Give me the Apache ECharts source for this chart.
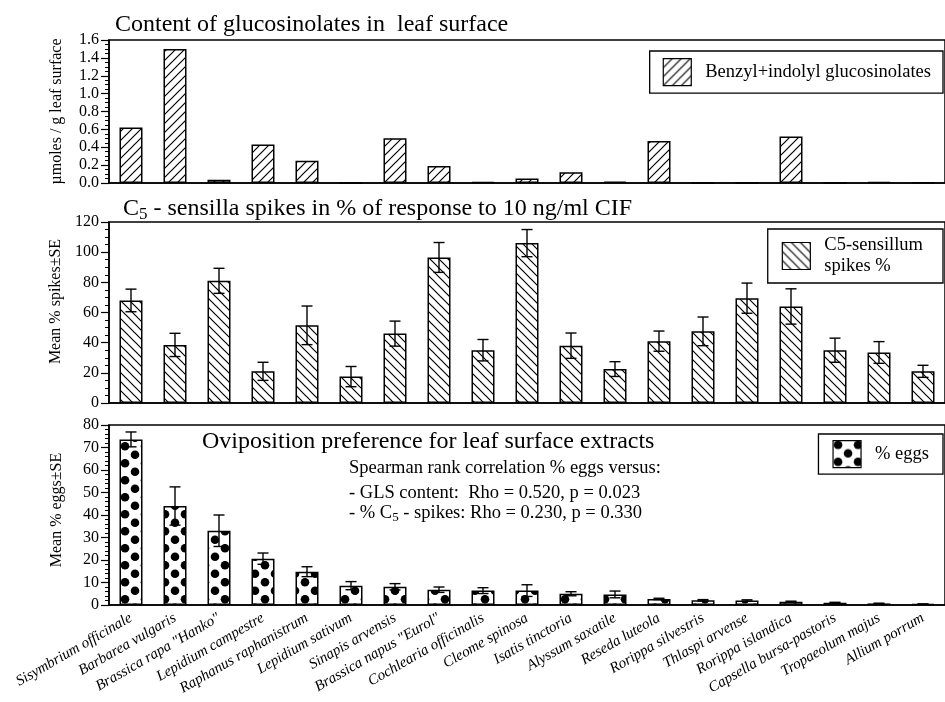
<!DOCTYPE html>
<html>
<head>
<meta charset="utf-8">
<script src="https://cdn.jsdelivr.net/npm/echarts@6/dist/echarts.min.js"></script>
<style>
  html, body { margin: 0; padding: 0; background: #fff; }
  #chart { width: 945px; height: 702px; }
</style>
</head>
<body>
<div id="chart"></div>
<script>
// species on the shared x axis
const species = [
  'Sisymbrium officinale', 'Barbarea vulgaris', 'Brassica rapa "Hanko"', 'Lepidium campestre',
  'Raphanus raphanistrum', 'Lepidium sativum', 'Sinapis arvensis', 'Brassica napus "Eurol"',
  'Cochlearia officinalis', 'Cleome spinosa', 'Isatis tinctoria', 'Alyssum saxatile',
  'Reseda luteola', 'Rorippa silvestris', 'Thlaspi arvense', 'Rorippa islandica',
  'Capsella bursa-pastoris', 'Tropaeolum majus', 'Allium porrum'
];
// top panel: umoles / g leaf surface
const glsContent = [0.62, 1.5, 0.035, 0.43, 0.25, 0, 0.5, 0.19, 0.01, 0.05, 0.12, 0.015, 0.47, 0, 0, 0.52, 0, 0.01, 0.005];
// middle panel: C5 spikes %
const spikesMean = [68, 38.5, 81, 21, 51.5, 17.5, 46, 96.5, 35, 106, 38, 22.5, 41, 47.5, 69.5, 64, 35, 33.5, 21];
const spikesSE = [7.5, 7.7, 8.3, 6, 12.8, 6.7, 8.3, 9.9, 7.1, 9, 8.4, 4.9, 6.7, 9.5, 10, 11.7, 8, 7.2, 4];
// bottom panel: % eggs
const eggsMean = [73.6, 44, 33, 20.6, 14.8, 8.6, 8.1, 6.8, 6.4, 6.4, 5.0, 4.7, 2.7, 2.1, 2.0, 1.5, 1.0, 0.7, 0.4];
const eggsSE = [3.3, 8.5, 7, 2.5, 2.2, 1.8, 1.4, 1.2, 1.3, 2.6, 0.9, 1.5, 0.3, 0.3, 0.3, 0.2, 0.2, 0.1, 0.1];

const serif = 'Liberation Serif';

function hatch(dir) {
    const c = document.createElement('canvas');
    c.width = c.height = 9;
    const g = c.getContext('2d');
    g.fillStyle = '#fff';
    g.fillRect(0, 0, 9, 9);
    g.strokeStyle = '#000';
    g.lineWidth = 1.2;
    g.beginPath();
    if (dir > 0) {
        g.moveTo(-1, 10); g.lineTo(10, -1);
        g.moveTo(-1, 1); g.lineTo(1, -1);
        g.moveTo(8, 10); g.lineTo(10, 8);
    } else {
        g.moveTo(-1, -1); g.lineTo(10, 10);
        g.moveTo(8, -1); g.lineTo(10, 1);
        g.moveTo(-1, 8); g.lineTo(1, 10);
    }
    g.stroke();
    return { image: c, repeat: 'repeat' };
}

function dots() {
    const c = document.createElement('canvas');
    c.width = 20; c.height = 17;
    const g = c.getContext('2d');
    g.fillStyle = '#fff';
    g.fillRect(0, 0, 20, 17);
    g.fillStyle = '#000';
    [[5, 4.2], [15, 12.7]].forEach(p => {
        g.beginPath();
        g.arc(p[0], p[1], 4.3, 0, Math.PI * 2);
        g.fill();
    });
    return { image: c, repeat: 'repeat' };
}

// error bars drawn through the axis scales
function errorBars(params, api) {
    const i = api.value(0), m = api.value(1), s = api.value(2);
    const top = api.coord([i, m + s]);
    const bot = api.coord([i, m - s]);
    const hw = 5.5;
    const st = { stroke: '#000', lineWidth: 1.4 };
    return {
        type: 'group',
        children: [
            { type: 'line', shape: { x1: top[0], y1: top[1], x2: bot[0], y2: bot[1] }, style: st },
            { type: 'line', shape: { x1: top[0] - hw, y1: top[1], x2: top[0] + hw, y2: top[1] }, style: st },
            { type: 'line', shape: { x1: bot[0] - hw, y1: bot[1], x2: bot[0] + hw, y2: bot[1] }, style: st }
        ]
    };
}

const grids = [
    { left: 109, top: 40, width: 844, height: 143 },
    { left: 109, top: 222, width: 844, height: 181 },
    { left: 109, top: 425, width: 844, height: 180 }
].map(g => Object.assign(g, { show: true, borderColor: '#000', borderWidth: 1.5 }));

const xAxes = [];
[0, 1, 2].forEach(gi => {
    xAxes.push({
        type: 'category', gridIndex: gi, data: species,
        axisLine: { lineStyle: { color: '#000', width: 1.5 } },
        axisTick: { length: 8, lineStyle: { color: '#000', width: 1.2 } },
        axisLabel: gi === 2 ? {
            interval: 0, rotate: 30, margin: 12, color: '#000',
            fontFamily: serif, fontStyle: 'italic', fontSize: 15
        } : { show: false }
    });
    // inner half of the crossing ticks
    xAxes.push({
        type: 'category', gridIndex: gi, data: species,
        axisLine: { show: false },
        axisTick: { inside: true, length: 8, lineStyle: { color: '#000', width: 1.2 } },
        axisLabel: { show: false }
    });
});

function yAxis(gi, max, interval, minorSplit, name, fmt, namePad) {
    return {
        type: 'value', gridIndex: gi, min: 0, max: max, interval: interval,
        name: name, nameLocation: 'middle', nameGap: 44,
        nameTextStyle: { fontFamily: serif, fontSize: 16, color: '#000', padding: namePad },
        axisLine: { show: true, lineStyle: { color: '#000', width: 1.5 } },
        axisTick: { show: true, length: 8, lineStyle: { color: '#000', width: 1.2 } },
        minorTick: { show: true, splitNumber: minorSplit, length: 4, lineStyle: { color: '#000', width: 1 } },
        splitLine: { show: false },
        axisLabel: { margin: 10, color: '#000', fontFamily: serif, fontSize: 16, formatter: fmt }
    };
}

const legendBase = {
    orient: 'vertical', right: 2, icon: 'rect',
    itemWidth: 28, itemHeight: 27,
    borderColor: '#000', borderWidth: 1.3,
    itemStyle: { borderColor: '#000', borderWidth: 1.2 },
    textStyle: { fontFamily: serif, fontSize: 18.5, color: '#000', padding: [0, 0, 0, 9], lineHeight: 21 },
    selectedMode: false
};

const titleStyle = { fontFamily: serif, fontSize: 24, fontWeight: 'normal', color: '#000' };
const noteStyle = { fontFamily: serif, fontSize: 18.5, fontWeight: 'normal', color: '#000' };
function subRich(size) {
    return {
        n: { fontFamily: serif, fontSize: size, color: '#000' },
        s: { fontFamily: serif, fontSize: Math.round(size * 0.72), color: '#000', padding: [Math.round(size * 0.45), 0, 0, 0] }
    };
}

const option = {
    animation: false,
    backgroundColor: '#fff',
    title: [
        { text: 'Content of glucosinolates in  leaf surface', left: 115, top: 13, padding: 0, textStyle: titleStyle },
        { text: '{n|C}{s|5}{n| - sensilla spikes in % of response to 10 ng/ml CIF}', left: 123, top: 195, padding: 0,
          textStyle: Object.assign({ rich: subRich(24) }, titleStyle) },
        { text: 'Oviposition preference for leaf surface extracts', left: 202, top: 430, padding: 0, textStyle: titleStyle },
        { text: 'Spearman rank correlation % eggs versus:', left: 349, top: 459, padding: 0, textStyle: noteStyle },
        { text: '- GLS content:  Rho = 0.520, p = 0.023', left: 349, top: 484, padding: 0, textStyle: noteStyle },
        { text: '{n|- % C}{s|5}{n| - spikes: Rho = 0.230, p = 0.330}', left: 349, top: 503, padding: 0,
          textStyle: Object.assign({ rich: subRich(18.5) }, noteStyle) }
    ],
    legend: [
        Object.assign({}, legendBase, { top: 51, padding: [7, 12, 7, 13], data: ['Benzyl+indolyl glucosinolates'] }),
        Object.assign({}, legendBase, { top: 229, padding: [6, 20, 6, 14], data: ['C5-sensillum spikes %'],
            formatter: () => 'C5-sensillum\nspikes %' }),
        Object.assign({}, legendBase, { top: 434, padding: [6, 14, 6, 14], data: ['% eggs'] })
    ],
    grid: grids,
    xAxis: xAxes,
    yAxis: [
        yAxis(0, 1.6, 0.2, 4, 'µmoles / g leaf surface', v => v.toFixed(1), [0, 0, 0, 0]),
        yAxis(1, 120, 20, 4, 'Mean % spikes±SE', null, [0, 0, 0, 22]),
        yAxis(2, 80, 10, 5, 'Mean % eggs±SE', null, [0, 0, 0, 10])
    ],
    series: [
        {
            name: 'Benzyl+indolyl glucosinolates', type: 'bar', xAxisIndex: 0, yAxisIndex: 0,
            barWidth: 23, data: glsContent,
            itemStyle: { color: hatch(1), borderColor: '#000', borderWidth: 1.5 }
        },
        {
            name: 'C5-sensillum spikes %', type: 'bar', xAxisIndex: 2, yAxisIndex: 1,
            barWidth: 23, data: spikesMean,
            itemStyle: { color: hatch(-1), borderColor: '#000', borderWidth: 1.5 }
        },
        {
            type: 'custom', xAxisIndex: 2, yAxisIndex: 1, renderItem: errorBars, z: 5,
            data: spikesMean.map((m, i) => [i, m, spikesSE[i]])
        },
        {
            name: '% eggs', type: 'bar', xAxisIndex: 4, yAxisIndex: 2,
            barWidth: 23, data: eggsMean,
            itemStyle: { color: dots(), borderColor: '#000', borderWidth: 1.5 }
        },
        {
            type: 'custom', xAxisIndex: 4, yAxisIndex: 2, renderItem: errorBars, z: 5,
            data: eggsMean.map((m, i) => [i, m, eggsSE[i]])
        }
    ]
};

const chart = echarts.init(document.getElementById('chart'));
chart.setOption(option);
</script>
</body>
</html>
